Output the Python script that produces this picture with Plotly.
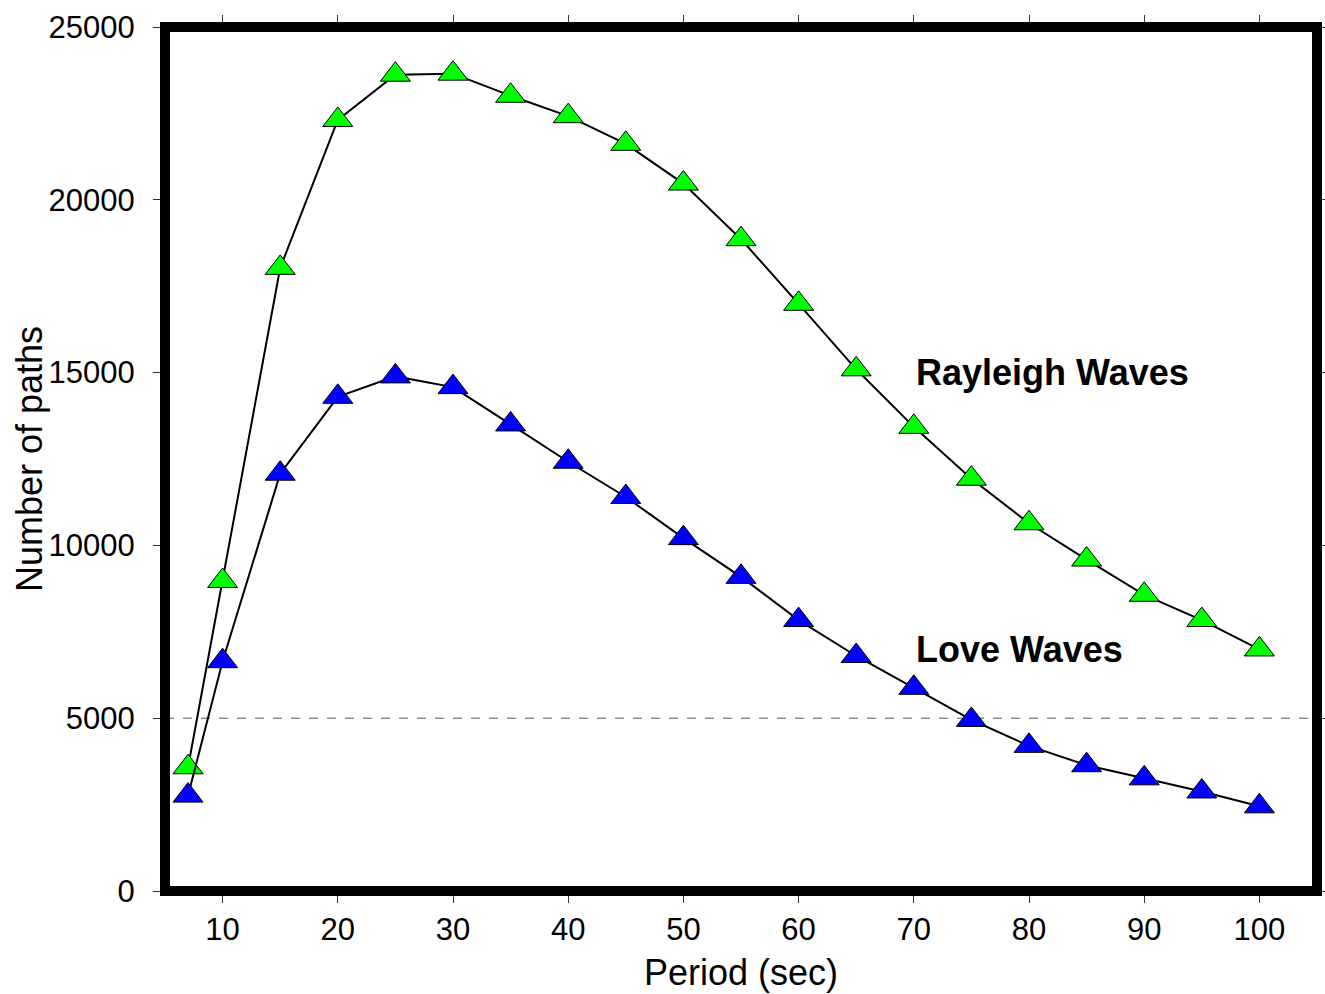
import plotly.graph_objects as go

periods = [7, 10, 15, 20, 25, 30, 35, 40, 45, 50, 55, 60, 65, 70, 75, 80, 85, 90, 95, 100]
rayleigh_paths = [3580, 8970, 18030, 22310, 23620, 23650, 23010, 22420, 21620, 20470,
                  18860, 16990, 15095, 13430, 11930, 10640, 9590, 8570, 7840, 6990]
love_paths = [2760, 6650, 12075, 14300, 14890, 14580, 13500, 12420, 11400, 10210,
              9090, 7840, 6800, 5880, 4950, 4200, 3640, 3260, 2880, 2450]
threshold = 5000
x_ticks = [10, 20, 30, 40, 50, 60, 70, 80, 90, 100]
y_ticks = [0, 5000, 10000, 15000, 20000, 25000]
y_ticktext = ["0", "5000", "10000", "15000", "20000", "25000"]

FONT = "Liberation Sans, Arial, Helvetica, sans-serif"

fig = go.Figure()
for vals, col in [(rayleigh_paths, "#00FF00"), (love_paths, "#0000FF")]:
    fig.add_trace(go.Scatter(
        x=periods, y=vals, mode="lines+markers",
        line=dict(color="black", width=2),
        marker=dict(symbol="triangle-up", size=26, color=col,
                    line=dict(color="black", width=1)),
        showlegend=False, cliponaxis=False,
    ))

# dashed reference line
fig.add_shape(type="line", xref="paper", x0=0, x1=1, yref="y", y0=threshold, y1=threshold,
              line=dict(color="#555555", width=1, dash="dash"), layer="below")
# thick frame
fig.add_shape(type="rect", xref="paper", yref="paper", x0=0, x1=1, y0=0, y1=1,
              line=dict(color="black", width=10), layer="above")

fig.add_annotation(x=70, y=15000, text="<b>Rayleigh Waves</b>", showarrow=False,
                   xanchor="left", yanchor="middle",
                   font=dict(family=FONT, size=36, color="black"))
fig.add_annotation(x=70, y=7000, text="<b>Love Waves</b>", showarrow=False,
                   xanchor="left", yanchor="middle",
                   font=dict(family=FONT, size=36, color="black"))
# y-axis title
fig.add_annotation(xref="paper", yref="paper", x=-0.118, y=0.5, text="Number of paths",
                   textangle=-90, showarrow=False, xanchor="center", yanchor="middle",
                   font=dict(family=FONT, size=36, color="black"))

axis_common = dict(showgrid=False, zeroline=False, showline=False,
                   ticks="outside", ticklen=11, tickwidth=1, tickcolor="#333333",
                   mirror="ticks",
                   tickfont=dict(family=FONT, size=31, color="black"))

fig.update_xaxes(range=[5, 105], tickvals=x_ticks,
                 title=dict(text="Period (sec)", font=dict(family=FONT, size=36, color="black"),
                            standoff=13),
                 ticklabelstandoff=0, **axis_common)
fig.update_yaxes(range=[0, 25000], tickvals=y_ticks, ticktext=y_ticktext,
                 ticklabelstandoff=12, **axis_common)

fig.update_layout(
    width=1325, height=994,
    margin=dict(l=165, r=8, t=27, b=103),
    paper_bgcolor="white", plot_bgcolor="white",
    font=dict(family=FONT),
)

fig.write_html("out.html")
